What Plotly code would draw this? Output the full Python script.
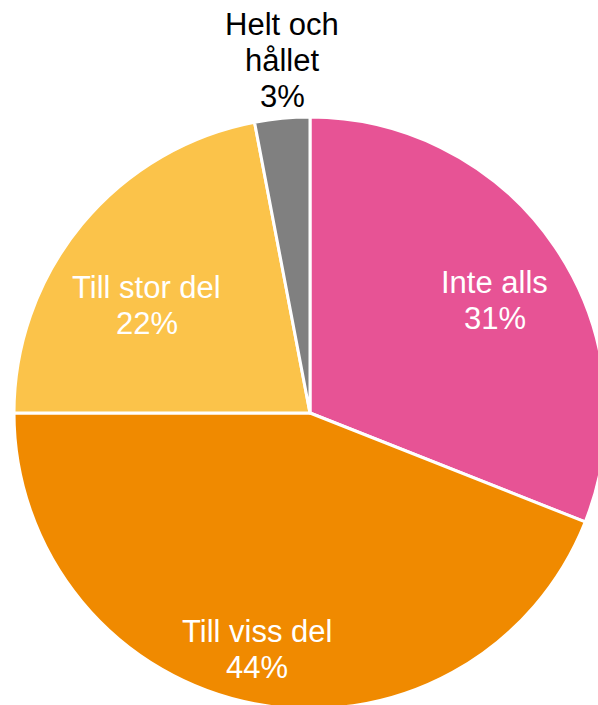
import math
import plotly.graph_objects as go

labels = ["Inte alls", "Till viss del", "Till stor del", "Helt och<br>hållet"]
values = [31, 44, 22, 3]
colors = ["#E75395", "#F08A00", "#FBC34A", "#808080"]
text_colors = ["white", "white", "white", "black"]
label_radius = [0.732, 0.82, 0.659, 1.196]   # label distance as fraction of pie radius
label_angle_shift = [2.8, 1.8, -6.3, 0.9]     # degrees, relative to slice mid-angle

W, H = 620, 715
R = 296
CX, CY = 310, 413  # pie centre in px from top-left
dom_x = [(CX - R) / W, (CX + R) / W]
dom_y = [1 - (CY + R) / H, 1 - (CY - R) / H]

fig = go.Figure(go.Pie(
    labels=labels,
    values=values,
    sort=False,
    direction="clockwise",
    rotation=0,
    marker=dict(colors=colors, line=dict(color="white", width=3)),
    textinfo="none",
    hoverinfo="label+percent",
    domain=dict(x=dom_x, y=dom_y),
))

total = sum(values)
cum = 0
font = "Liberation Sans, Arial, sans-serif"
line_gap = 36
for lab, v, tc, rf, da in zip(labels, values, text_colors, label_radius, label_angle_shift):
    mid = (cum + v / 2) / total * 2 * math.pi + math.radians(da)
    cum += v
    px = CX + rf * R * math.sin(mid)
    py = CY - rf * R * math.cos(mid)
    lines = lab.split("<br>") + [f"{round(100 * v / total)}%"]
    n = len(lines)
    for i, ln in enumerate(lines):
        off = (i - (n - 1) / 2) * line_gap
        fig.add_annotation(
            x=px / W, y=1 - (py + off) / H, xref="paper", yref="paper",
            text=ln, showarrow=False, xanchor="center", yanchor="middle",
            font=dict(family=font, size=31, color=tc),
        )

fig.update_layout(
    width=W, height=H,
    margin=dict(l=0, r=0, t=0, b=0),
    showlegend=False,
    paper_bgcolor="white",
)
fig.write_html(
    "out.html",
    config={"displayModeBar": False},
    post_script="document.body.style.margin='0';document.body.style.overflow='hidden';",
)
